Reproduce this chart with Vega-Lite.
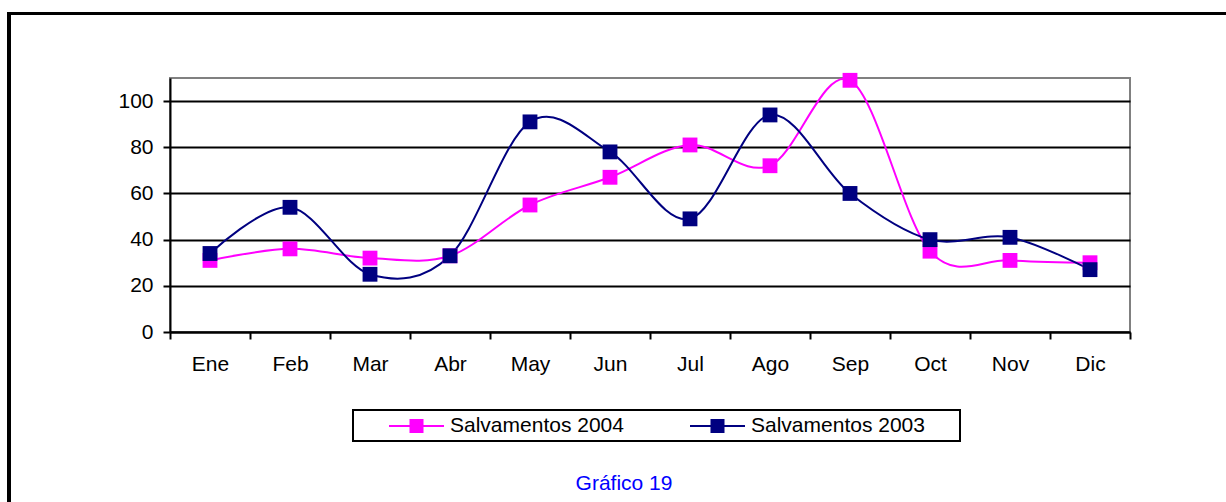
{
  "$schema": "https://vega.github.io/schema/vega-lite/v6.json",
  "width": 960,
  "height": 254,
  "autosize": {"type": "none"},
  "padding": {"left": 170, "top": 78, "right": 96, "bottom": 170},
  "background": "white",
  "config": {
    "font": "Liberation Sans",
    "view": {"stroke": "#808080", "strokeWidth": 2}
  },
  "data": {
    "values": [
      {"mes": "Ene", "i": 1, "serie": "Salvamentos 2004", "v": 31},
      {"mes": "Feb", "i": 2, "serie": "Salvamentos 2004", "v": 36},
      {"mes": "Mar", "i": 3, "serie": "Salvamentos 2004", "v": 32},
      {"mes": "Abr", "i": 4, "serie": "Salvamentos 2004", "v": 33},
      {"mes": "May", "i": 5, "serie": "Salvamentos 2004", "v": 55},
      {"mes": "Jun", "i": 6, "serie": "Salvamentos 2004", "v": 67},
      {"mes": "Jul", "i": 7, "serie": "Salvamentos 2004", "v": 81},
      {"mes": "Ago", "i": 8, "serie": "Salvamentos 2004", "v": 72},
      {"mes": "Sep", "i": 9, "serie": "Salvamentos 2004", "v": 109},
      {"mes": "Oct", "i": 10, "serie": "Salvamentos 2004", "v": 35},
      {"mes": "Nov", "i": 11, "serie": "Salvamentos 2004", "v": 31},
      {"mes": "Dic", "i": 12, "serie": "Salvamentos 2004", "v": 30},
      {"mes": "Ene", "i": 1, "serie": "Salvamentos 2003", "v": 34},
      {"mes": "Feb", "i": 2, "serie": "Salvamentos 2003", "v": 54},
      {"mes": "Mar", "i": 3, "serie": "Salvamentos 2003", "v": 25},
      {"mes": "Abr", "i": 4, "serie": "Salvamentos 2003", "v": 33},
      {"mes": "May", "i": 5, "serie": "Salvamentos 2003", "v": 91},
      {"mes": "Jun", "i": 6, "serie": "Salvamentos 2003", "v": 78},
      {"mes": "Jul", "i": 7, "serie": "Salvamentos 2003", "v": 49},
      {"mes": "Ago", "i": 8, "serie": "Salvamentos 2003", "v": 94},
      {"mes": "Sep", "i": 9, "serie": "Salvamentos 2003", "v": 60},
      {"mes": "Oct", "i": 10, "serie": "Salvamentos 2003", "v": 40},
      {"mes": "Nov", "i": 11, "serie": "Salvamentos 2003", "v": 41},
      {"mes": "Dic", "i": 12, "serie": "Salvamentos 2003", "v": 27}
    ]
  },
  "layer": [
    {
      "mark": {"type": "line", "interpolate": "cardinal", "strokeWidth": 2},
      "encoding": {
        "x": {
          "field": "i",
          "type": "quantitative",
          "scale": {"domain": [0.5, 12.5], "nice": false, "zero": false},
          "axis": {
            "values": [0.5, 1.5, 2.5, 3.5, 4.5, 5.5, 6.5, 7.5, 8.5, 9.5, 10.5, 11.5, 12.5],
            "labelExpr": "floor(datum.value) < 12 ? ['Ene','Feb','Mar','Abr','May','Jun','Jul','Ago','Sep','Oct','Nov','Dic'][floor(datum.value)] : ''",
            "labelOffset": 40,
            "labelFlush": false,
            "labelOverlap": false,
            "labelBound": false,
            "labelFontSize": 21,
            "labelColor": "black",
            "labelPadding": 14,
            "grid": false,
            "tickSize": 7,
            "tickWidth": 2,
            "tickColor": "black",
            "domainColor": "black",
            "domainWidth": 2,
            "title": "Gráfico 19",
            "titleColor": "#0000FF",
            "titleFontSize": 21,
            "titleFontWeight": "normal",
            "titleBaseline": "alphabetic",
            "titleAlign": "center",
            "titleAnchor": "start",
            "titleX": 453.5,
            "titleY": 157.5
          }
        },
        "y": {
          "field": "v",
          "type": "quantitative",
          "scale": {"domain": [0, 110], "nice": false},
          "axis": {
            "values": [0, 20, 40, 60, 80, 100],
            "grid": true,
            "gridColor": "black",
            "gridWidth": 2,
            "gridOpacity": 1,
            "labelFontSize": 21,
            "labelColor": "black",
            "labelPadding": 10,
            "tickSize": 7,
            "tickWidth": 2,
            "tickColor": "black",
            "domainColor": "black",
            "domainWidth": 2,
            "title": null
          }
        },
        "color": {
          "field": "serie",
          "type": "nominal",
          "sort": null,
          "scale": {"domain": ["Salvamentos 2004", "Salvamentos 2003"], "range": ["#FF00FF", "#000080"]},
          "legend": {
            "orient": "none",
            "legendX": 183,
            "legendY": 332,
            "direction": "horizontal",
            "title": null,
            "strokeColor": "black",
            "padding": 5,
            "symbolType": "M-1,0M2,0H7.5M4.15,-0.6H5.35V0.6H4.15Z",
            "symbolSize": 400,
            "symbolStrokeWidth": 2,
            "labelFontSize": 21,
            "labelColor": "black",
            "labelOffset": 70,
            "labelLimit": 400,
            "columnPadding": 32,
            "labelExpr": "datum.label == 'Salvamentos 2003' ? datum.label + '\u00a0\u00a0\u00a0\u00a0\u00a0\u200b' : datum.label",
            "encode": {
              "symbols": {"update": {"fill": {"scale": "color", "field": "value"}, "stroke": {"scale": "color", "field": "value"}, "opacity": {"value": 1}}},
              "legend": {"update": {"strokeWidth": {"value": 2}}}
            }
          }
        },
        "order": {"field": "i", "type": "quantitative"}
      }
    },
    {
      "mark": {"type": "point", "shape": "square", "filled": true, "opacity": 1, "size": 220},
      "encoding": {
        "x": {"field": "i", "type": "quantitative"},
        "y": {"field": "v", "type": "quantitative"},
        "color": {"field": "serie", "type": "nominal", "sort": null}
      }
    },
    {
      "mark": {"type": "rect", "filled": false, "stroke": "black", "strokeWidth": 2.5},
      "encoding": {
        "x": {"datum": -1.5125, "type": "quantitative"},
        "x2": {"datum": 16},
        "y": {"datum": 138, "type": "quantitative"},
        "y2": {"datum": -100}
      }
    }
  ]
}
